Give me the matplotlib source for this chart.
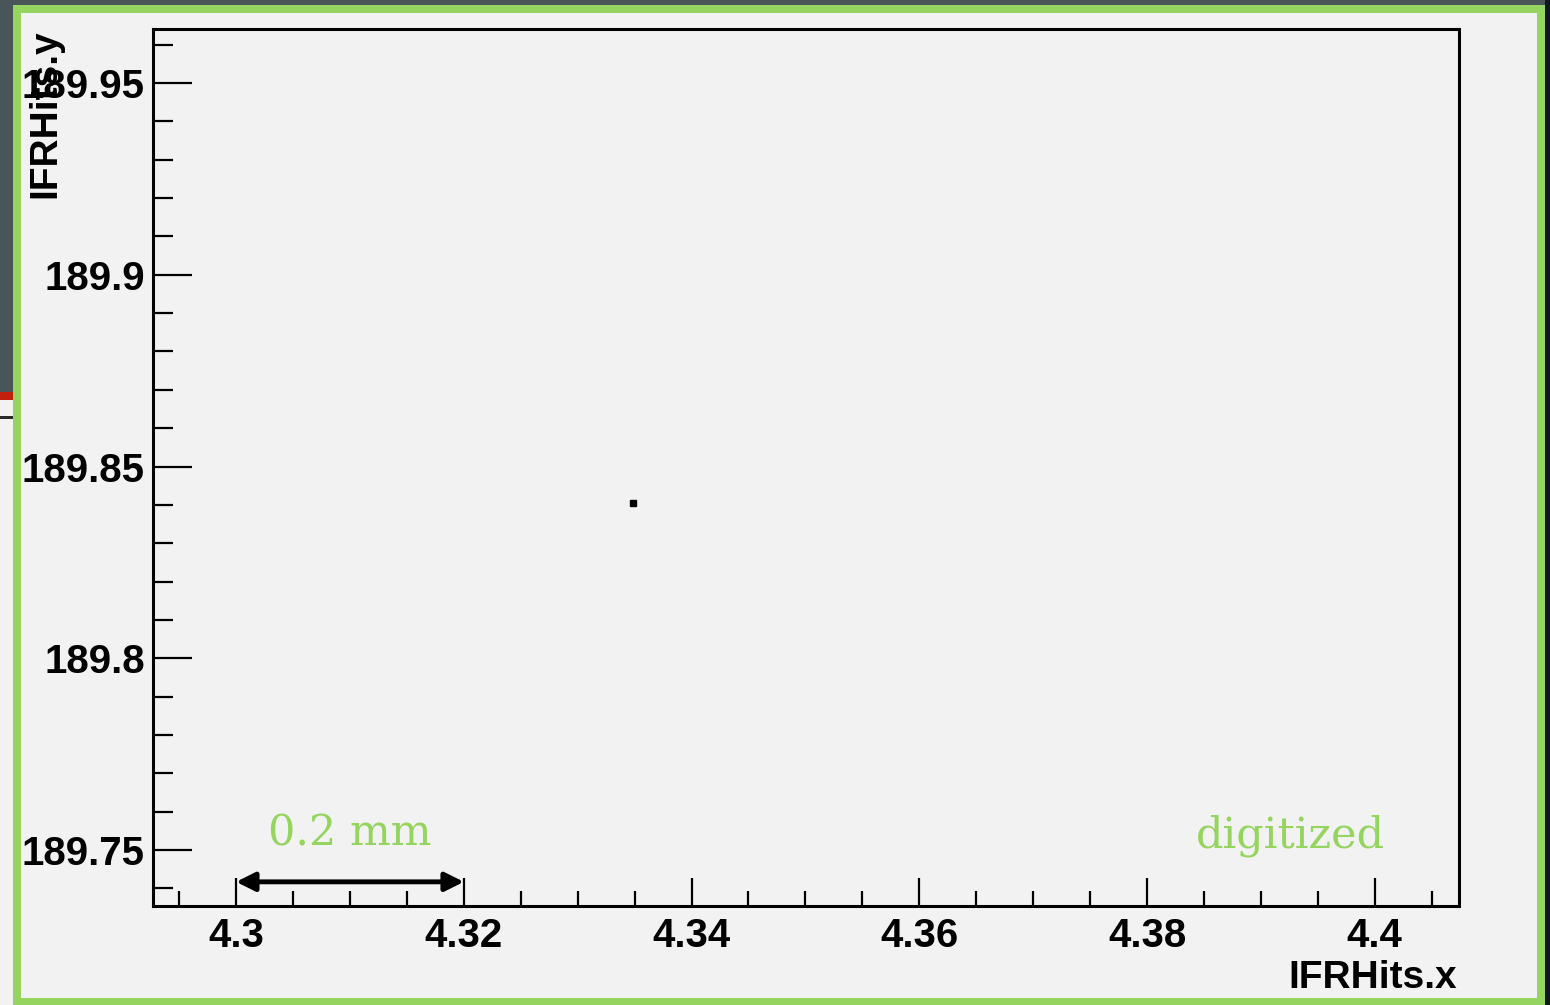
import matplotlib
matplotlib.use("Agg")
import matplotlib.pyplot as plt
from matplotlib.patches import Rectangle
from matplotlib.ticker import FixedLocator, MultipleLocator

# single digitized hit
hit_x = [4.3349]
hit_y = [189.8404]

x_ticks = [4.30, 4.32, 4.34, 4.36, 4.38, 4.40]
x_ticklabels = ['4.3', '4.32', '4.34', '4.36', '4.38', '4.4']
y_ticks = [189.75, 189.80, 189.85, 189.90, 189.95]
y_ticklabels = ['189.75', '189.8', '189.85', '189.9', '189.95']

# scale bar for 0.2 mm
bar_x = [4.30, 4.32]
bar_y = 189.7417

W, H = 1550, 1005
green = '#95d45e'
plt.rcParams['font.family'] = ['Liberation Sans', 'DejaVu Sans']

fig = plt.figure(figsize=(W / 100, H / 100), dpi=100, facecolor='#f2f2f2')


def box(x0, y0, x1, y1, color):
	# rectangle in image pixels (origin top left)
	fig.patches.append(Rectangle((x0 / W, 1 - y1 / H), (x1 - x0) / W, (y1 - y0) / H,
		transform=fig.transFigure, color=color, lw=0, zorder=0))


# slide background around the frame
box(0, 0, W, 5, '#4a555a')
box(0, 0, 13, 392, '#4a555a')
box(0, 392, 13, 400, '#c0200c')
box(0, 416, 13, 419, '#2a2a2a')
box(1545, 0, W, H, '#11171d')
# green frame
box(13, 5, 1545, 13, green)
box(13, 5, 21, H, green)
box(1537, 5, 1545, H, green)
box(13, 998, 1545, H, green)

ax = fig.add_axes([153 / W, 1 - 906 / H, (1459 - 153) / W, (906 - 29) / H])
ax.set_facecolor('#f2f2f2')
ax.plot(hit_x, hit_y, 's', color='black', markersize=4.8)

ax.set_xlim(4.2927, 4.4074)
ax.set_ylim(189.7354, 189.9641)
ax.xaxis.set_major_locator(FixedLocator(x_ticks))
ax.set_xticklabels(x_ticklabels)
ax.yaxis.set_major_locator(FixedLocator(y_ticks))
ax.set_yticklabels(y_ticklabels)
ax.xaxis.set_minor_locator(MultipleLocator(0.005))
ax.yaxis.set_minor_locator(MultipleLocator(0.01))

for s in ax.spines.values():
	s.set_linewidth(2.2)
ax.tick_params(axis='both', which='both', direction='in', width=1.6, top=False, right=False)
ax.tick_params(axis='x', which='major', length=20, pad=8, labelsize=29)
ax.tick_params(axis='x', which='minor', length=10.5)
ax.tick_params(axis='y', which='major', length=28, pad=6, labelsize=29)
ax.tick_params(axis='y', which='minor', length=14.5)
for lab in ax.get_xticklabels() + ax.get_yticklabels():
	lab.set_fontweight('bold')

fig.text(1457 / W, 1 - 978 / H, 'IFRHits.x', ha='right', va='center',
	fontsize=28, fontweight='bold')
fig.text(45 / W, 1 - 29 / H, 'IFRHits.y', ha='center', va='top', rotation=90,
	fontsize=28, fontweight='bold')

ax.annotate('', xy=(bar_x[1], bar_y), xytext=(bar_x[0], bar_y),
	arrowprops=dict(arrowstyle='<|-|>', color='black', lw=3.5, mutation_scale=28,
		shrinkA=0, shrinkB=0))
ax.text(sum(bar_x) / 2, 189.7511, '0.2 mm', ha='center', va='baseline',
	fontsize=31, color=green, family=['DejaVu Serif'])
ax.text(4.3926, 189.7506, 'digitized', ha='center', va='baseline',
	fontsize=31, color=green, family=['DejaVu Serif'])

fig.savefig('out.png', dpi=100, facecolor=fig.get_facecolor())
